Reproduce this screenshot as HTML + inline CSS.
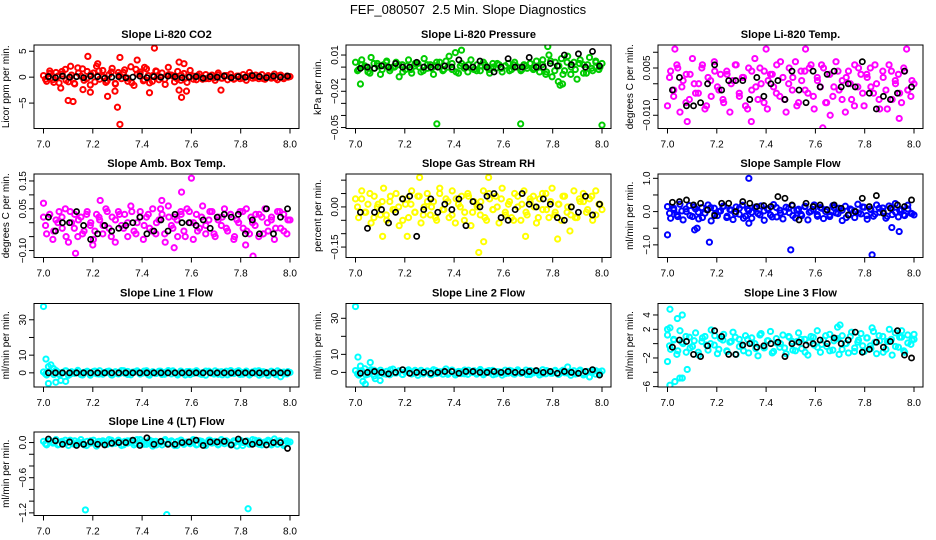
<!DOCTYPE html>
<html><head><meta charset="utf-8"><style>
body{margin:0;background:#fff;}
svg{display:block;font-family:"Liberation Sans",sans-serif;}
</style></head><body>
<svg id="chart" width="936" height="540" viewBox="0 0 936 540" xmlns="http://www.w3.org/2000/svg">
<rect width="936" height="540" fill="#fff"/>
<text x="468" y="14" text-anchor="middle" font-size="13">FEF_080507&#160; 2.5 Min. Slope Diagnostics</text>
</svg>
<script>
const xTicks = [7.0, 7.2, 7.4, 7.6, 7.8, 8.0];
const xTickLabels = ["7.0", "7.2", "7.4", "7.6", "7.8", "8.0"];

const co2Band = [0.3,-0.8,1.2,-0.5,0.9,-1.1,0.6,1.5,-0.9,0.4,-1.3,1.8,0.2,-0.6,1.1,-1.5,0.8,2.1,-0.4,1.3,-1.0,0.5,1.7,-1.2,0.9,-0.3,1.4,-0.8,2.0,-1.6,0.6,1.0,-0.7,1.6,-1.1,0.3,1.2,-0.5,0.8,-1.4,1.9,0.4,-0.9,1.1,-0.6,0.7,-1.0,1.3,0.2,-0.5,0.6,-0.4,0.5,-0.3,0.4,-0.6,0.8,-0.2,0.3,-0.5,0.6,-0.4,0.2,-0.3,0.5,-0.6,0.9,-0.2,0.4,-0.3,0.5,-0.4,0.3,-0.2,0.6,-0.5,0.4,-0.3,0.2,0.1];
const co2Band2 = [-0.4,0.7,-1.0,0.2,1.1,-0.6,0.0,-1.2,0.8,1.6,-0.3,0.5,-0.9,1.2,0.1,-0.7,1.0,-1.3,0.4,0.9,-0.2,-1.1,1.5,0.6,-0.5,0.3,-0.8,1.1,0.0,-0.4,0.5,0.2,-0.3,0.4,-0.2,0.1,-0.4,0.3,0.0,-0.3,0.2,-0.1,0.4,-0.2,0.3,0.0,-0.3,0.2,-0.2,0.1,0.3,-0.1,0.2,-0.3,0.1,0.0,-0.2,0.3,-0.1,0.0];
const co2Black = [0.1,-0.1,0.2,0.0,0.1,-0.1,0.2,0.1,-0.2,0.0,0.1,-0.1,0.0,0.2,-0.1,0.1,0.0,0.2,0.1,-0.1,0.0,0.1,-0.2,0.1,0.0,0.2,-0.1,0.1,0.0,0.3,0.1,-0.1,0.2,0.0,0.2];
const co2OutX = [7.18,7.31,7.30,7.31,7.45,7.10,7.12,7.07,7.56,7.55,7.58,7.26,7.19,7.29,7.72,7.55,7.57,7.38,7.22,7.43,7.11,7.16,7.41];
const co2OutY = [4.0,3.8,-5.8,-9.1,5.6,-4.5,-4.7,-2.1,-3.9,-2.5,-2.7,-3.7,-2.9,-2.7,-2.5,2.9,2.6,3.3,2.6,-3.0,2.1,-2.4,1.9];

const presBand = [0.004,-0.002,0.006,0.001,-0.004,0.008,-0.001,0.003,-0.006,0.002,0.005,-0.003,0.000,0.004,-0.008,0.002,-0.002,0.006,-0.005,0.001,0.003,-0.004,0.007,-0.001,0.002,-0.006,0.004,0.000,-0.003,0.005,0.009,-0.002,0.012,-0.005,0.003,0.001,-0.004,0.006,-0.002,0.002,-0.003,0.004,0.000,-0.005,0.003,-0.001,0.002,-0.004,0.001,0.003,-0.002,0.004,0.000,-0.003,0.002,-0.001,0.003,-0.002,0.005,-0.004,0.006,-0.006,0.010,-0.008,0.004,-0.012,0.007,-0.003,0.009,-0.006,0.004,-0.010,0.006,0.002,-0.005,0.008,-0.003,0.005,-0.002,0.003];
const presBand2 = [-0.003,0.002,0.000,-0.005,0.003,0.001,-0.002,0.004,-0.001,0.000,0.002,-0.004,0.001,-0.002,0.003,0.000,-0.003,0.002,-0.001,0.001,0.004,-0.002,0.000,0.003,-0.004,0.001,-0.001,0.002,0.000,-0.003,0.001,0.002,-0.002,0.000,0.003,-0.001,0.001,-0.003,0.002,0.000,-0.002,0.001,0.003,-0.001,0.000,0.002,-0.004,0.005,-0.003,0.001,-0.006,0.004,0.000,-0.002,0.003,-0.005,0.002,-0.001,0.004,0.000];
const presBlack = [-0.001,0.000,-0.001,0.001,0.000,0.003,0.000,0.000,0.004,0.000,0.000,0.000,0.001,0.000,0.006,0.000,0.000,0.005,0.000,-0.004,0.000,0.007,0.000,0.000,0.008,0.000,0.000,0.003,0.001,0.010,0.002,0.011,0.000,0.013,0.001];
const presOutX = [7.02,7.33,7.67,8.0,7.78,7.43,7.83,7.84];
const presOutY = [-0.014,-0.047,-0.047,-0.048,0.017,0.014,-0.015,-0.014];

const tempBand = [-0.007,0.004,-0.002,0.006,-0.009,0.001,0.003,-0.005,0.008,-0.003,0.000,0.005,-0.008,0.002,-0.004,0.007,-0.001,0.003,-0.006,0.004,-0.009,0.001,0.006,-0.003,0.002,-0.007,0.005,-0.002,0.008,-0.005,0.000,0.004,-0.008,0.003,-0.001,0.006,-0.004,0.002,-0.009,0.005,-0.002,0.007,-0.006,0.001,0.004,-0.003,0.006,-0.008,0.002,-0.001,0.005,-0.006,0.003,-0.004,0.007,-0.002,0.001,-0.009,0.004,-0.005,0.006,-0.001,0.003,-0.007,0.002,0.005,-0.003,0.000,-0.008,0.004,-0.002,0.006,-0.005,0.001,0.003,-0.006,0.004,-0.002,-0.004,0.000];
const tempBand2 = [0.002,-0.004,0.005,-0.001,-0.006,0.003,0.000,-0.003,0.006,-0.007,0.001,0.004,-0.002,-0.005,0.003,0.000,0.006,-0.004,0.002,-0.008,0.004,-0.001,0.005,-0.006,0.001,0.003,-0.003,0.007,-0.005,0.000,0.002,-0.007,0.004,-0.002,0.005,-0.004,0.001,0.006,-0.006,0.003,-0.001,0.004,-0.005,0.002,0.000,-0.007,0.005,-0.003,0.003,-0.001,0.006,-0.005,0.002,-0.008,0.004,0.000,-0.003,0.005,-0.002,0.001];
const tempBlack = [-0.002,0.002,-0.007,-0.007,-0.006,0.000,0.006,-0.002,0.001,0.001,0.001,-0.005,0.002,-0.004,0.000,0.001,-0.005,0.004,-0.002,-0.006,0.004,-0.001,0.003,0.004,-0.001,0.000,-0.001,0.007,-0.003,-0.008,-0.004,-0.005,-0.003,0.004,-0.001];
const tempOutX = [7.03,7.08,7.40,7.34,7.63,7.94,7.66,7.56,7.97];
const tempOutY = [0.011,-0.012,0.011,-0.012,-0.014,-0.011,-0.010,0.011,0.011];

const ambBand = [0.02,-0.04,0.03,-0.06,0.01,0.04,-0.02,0.05,-0.07,0.00,0.03,-0.05,0.02,-0.03,0.04,-0.01,-0.06,0.03,0.01,-0.04,0.05,-0.02,0.02,-0.07,0.04,-0.01,0.03,-0.05,0.06,-0.03,0.00,0.04,-0.06,0.02,-0.02,0.05,-0.04,0.01,0.03,-0.07,0.06,-0.01,0.02,-0.05,0.04,-0.03,0.05,0.00,-0.06,0.03,-0.02,0.06,-0.04,0.01,0.04,-0.05,0.02,-0.01,0.05,-0.03,0.03,-0.06,0.01,0.04,-0.02,0.05,-0.04,0.00,0.03,-0.05,0.02,0.05,-0.03,0.01,-0.06,0.04,-0.02,0.03,-0.04,0.01];
const ambBand2 = [-0.01,0.03,-0.03,0.00,0.02,-0.05,0.04,-0.02,0.01,-0.04,0.03,0.00,-0.03,0.02,-0.01,0.04,-0.05,0.01,0.03,-0.02,0.00,0.04,-0.04,0.02,-0.01,0.03,-0.03,0.00,0.05,-0.04,0.02,-0.02,0.01,0.03,-0.05,0.04,0.00,-0.03,0.02,-0.01,0.04,-0.04,0.01,0.02,-0.02,0.03,-0.05,0.00,0.04,-0.03,0.02,-0.01,0.03,-0.04,0.00,0.02,-0.02,0.04,-0.03,0.01];
const ambBlack = [0.02,-0.03,0.00,0.00,0.04,-0.01,-0.06,-0.04,-0.01,-0.03,-0.02,-0.01,0.00,0.02,-0.04,-0.03,0.01,-0.03,0.03,0.00,0.00,-0.01,0.01,-0.02,0.02,0.03,0.02,0.03,-0.04,0.01,-0.04,0.05,-0.04,0.02,0.05];
const ambOutX = [7.13,7.60,7.56,7.85,7.20,7.00,7.53,7.82,7.48,7.23];
const ambOutY = [-0.11,0.16,0.11,-0.12,-0.08,0.07,-0.09,-0.08,0.08,0.08];

const rhBand = [0.03,-0.04,0.06,-0.02,0.01,-0.06,0.04,0.00,-0.03,0.07,-0.05,0.02,-0.01,0.05,-0.07,0.03,0.01,-0.04,0.06,-0.02,0.04,-0.06,0.00,0.05,-0.03,0.02,-0.05,0.07,-0.01,0.03,-0.04,0.06,-0.06,0.01,0.04,-0.02,0.05,-0.07,0.02,0.00,-0.03,0.06,-0.05,0.03,-0.01,0.04,-0.06,0.07,-0.02,0.01,-0.04,0.05,0.00,-0.05,0.06,-0.03,0.02,0.04,-0.06,0.03,-0.01,0.05,-0.04,0.07,-0.02,0.01,-0.05,0.04,0.00,-0.03,0.06,-0.04,0.02,0.05,-0.02,0.03,-0.05,0.06,0.01,-0.01];
const rhBand2 = [0.00,0.03,-0.02,0.05,-0.04,0.01,0.02,-0.03,0.04,-0.01,0.00,-0.05,0.03,0.01,-0.02,0.04,-0.03,0.02,0.00,-0.04,0.05,-0.01,0.02,-0.03,0.03,0.00,-0.05,0.04,-0.02,0.01,0.02,-0.04,0.05,-0.01,0.00,0.03,-0.03,0.02,-0.05,0.04,0.01,-0.02,0.03,0.00,-0.04,0.05,-0.01,0.02,-0.03,0.01,0.04,-0.02,0.00,-0.04,0.03,0.02,-0.01,0.04,-0.03,0.01];
const rhBlack = [-0.02,-0.08,-0.02,-0.01,-0.06,-0.02,0.03,0.04,-0.11,-0.01,0.03,-0.02,0.01,-0.01,0.03,-0.07,0.02,0.00,0.04,0.05,-0.04,-0.05,-0.01,0.05,0.01,0.00,0.03,0.01,-0.04,-0.05,0.00,-0.02,0.04,-0.03,0.01];
const rhOutX = [7.26,7.50,7.54,7.11,7.21,7.52,7.69,7.82,7.87];
const rhOutY = [0.11,-0.17,0.11,-0.11,-0.11,-0.13,-0.11,-0.12,-0.09];

const sfBand = [0.15,-0.20,0.05,-0.10,0.22,-0.25,0.00,0.18,-0.15,0.08,-0.22,0.12,-0.05,0.20,-0.28,0.10,-0.12,0.02,0.16,-0.18,0.06,-0.24,0.14,-0.08,0.19,-0.14,0.03,-0.20,0.11,-0.06,0.17,-0.26,0.09,-0.10,0.21,-0.16,0.04,-0.22,0.13,-0.03,0.18,-0.19,0.07,-0.12,0.15,-0.25,0.01,0.20,-0.09,0.12,-0.21,0.06,-0.15,0.18,-0.04,0.10,-0.27,0.16,-0.11,0.05,-0.18,0.22,-0.07,0.13,-0.23,0.08,-0.14,0.20,-0.02,0.11,-0.20,0.17,-0.09,0.24,-0.16,0.06,-0.12,0.19,-0.05,-0.10];
const sfBand2 = [-0.05,0.10,-0.15,0.02,0.08,-0.12,0.14,-0.02,-0.18,0.06,0.12,-0.08,0.00,0.16,-0.14,0.04,-0.06,0.10,-0.20,0.08,-0.02,0.14,-0.10,0.02,0.06,-0.16,0.12,-0.04,0.00,0.10,-0.12,0.04,-0.08,0.16,-0.02,0.06,-0.14,0.10,0.00,-0.10,0.12,-0.06,0.04,-0.18,0.08,0.02,-0.04,0.14,-0.12,0.06,-0.08,0.10,0.00,-0.14,0.12,-0.02,0.04,-0.10,0.08,-0.06];
const sfBlack = [0.28,0.30,0.35,0.20,0.25,0.05,-0.12,0.25,0.25,0.00,0.30,0.25,0.15,0.18,0.15,0.45,0.40,0.20,-0.25,0.25,0.15,0.20,0.05,0.20,0.10,-0.10,0.00,0.40,0.15,0.48,-0.05,0.10,0.20,0.15,0.35];
const sfOutX = [7.00,7.33,7.17,7.11,7.50,7.83,7.91,7.94,7.12,7.33];
const sfOutY = [-0.70,1.00,-0.92,-0.55,-1.15,-1.30,-0.48,-0.60,-0.50,-0.35];

const l1Band = [0.5,-1.2,1.0,-0.4,1.3,-0.9,0.2,1.1,-1.4,0.6,-0.3,1.4,-1.0,0.3,0.9,-1.3,0.7,-0.5,1.2,-0.8,0.1,1.0,-1.2,0.4,-0.6,1.3,-0.2,0.8,-1.1,0.5,1.1,-0.7,0.0,1.2,-1.3,0.6,-0.4,0.9,-0.9,0.3,1.3,-0.6,0.2,-1.2,1.0,-0.1,0.7,-1.0,0.4,1.2,-0.5,0.1,-1.3,0.9,-0.3,1.1,-0.8,0.6,0.0,-1.1,1.3,-0.4,0.8,-0.9,0.2,1.0,-1.2,0.5,-0.2,1.2,-0.7,0.3,-1.4,0.9,-0.5,1.1,-2.2,0.4,-0.6,0.2];
const l1Band2 = [-0.6,0.8,-1.0,0.4,-0.2,1.1,-0.8,0.2,0.9,-1.2,0.5,-0.3,1.0,-0.7,0.1,0.8,-1.1,0.6,-0.4,1.2,-0.9,0.3,0.7,-0.5,1.0,-1.0,0.2,-0.2,0.9,-0.8,0.4,1.1,-0.6,0.0,-1.2,0.8,-0.3,0.6,-0.9,1.0,0.1,-0.7,0.5,-1.1,0.9,-0.4,0.3,1.2,-0.8,0.2,-0.5,1.0,-1.3,0.6,-0.1,0.8,-1.0,0.4,-0.6,0.7];
const l1Black = [0.0,0.0,0.0,0.0,0.0,0.0,0.0,0.0,0.0,0.0,0.0,0.0,0.0,0.0,0.0,0.0,0.0,0.0,0.0,0.0,0.0,0.0,0.0,0.0,0.0,0.0,0.0,0.0,0.0,0.0,0.0,0.0,0.0,0.0,0.0];
const l1OutX = [7.00,7.01,7.02,7.03,7.05,7.07,7.09,7.04,7.02];
const l1OutY = [37.5,7.8,3.5,4.5,-5.3,-4.3,-4.8,2.5,-6.0];

const l2Band = [1.0,-1.5,0.5,2.0,-1.0,1.5,-2.0,0.3,1.2,-0.8,0.6,-1.3,1.8,-0.4,0.9,-1.1,0.2,1.4,-0.9,0.7,-1.6,1.1,-0.2,0.8,-1.2,1.5,-0.6,0.4,-1.0,1.9,-0.3,1.0,-1.4,0.5,-0.7,1.3,-1.1,0.2,0.9,-0.5,1.6,-1.3,0.6,-0.2,1.1,-0.9,0.3,-1.5,1.2,-0.4,0.8,-1.0,1.4,-0.6,0.1,-1.2,1.0,-0.3,0.7,-1.4,1.5,-0.8,0.4,-0.5,1.1,-1.1,0.6,-0.2,3.0,-1.6,0.9,-0.7,1.3,-0.4,0.5,-2.5,1.0,-1.0,0.3,0.8];
const l2Band2 = [-0.8,0.9,-1.4,0.3,1.2,-0.5,0.0,-1.0,1.4,-0.3,0.6,-1.2,0.9,-0.6,1.1,0.2,-0.9,0.5,-1.3,1.0,-0.2,0.7,-1.1,1.3,-0.4,0.3,-0.8,1.2,0.0,-1.0,0.8,-0.5,1.0,-1.3,0.4,0.1,-0.7,1.1,-0.9,0.5,-0.2,1.3,-1.2,0.6,0.0,-0.8,1.0,-0.4,0.7,-1.1,1.2,-0.3,0.4,-0.9,0.8,-1.4,0.5,-0.1,0.9,-0.6];
const l2Black = [-0.5,0.0,0.5,0.0,-0.8,0.0,1.5,-0.5,0.0,0.0,-0.5,0.0,0.5,0.5,-0.5,0.5,0.5,0.0,0.0,0.5,0.0,0.5,0.0,0.0,0.5,1.0,0.0,0.5,-0.5,0.5,0.0,-0.5,0.5,1.5,-1.5];
const l2OutX = [7.00,7.01,7.02,7.03,7.04,7.06,7.08,7.10];
const l2OutY = [36.5,8.5,3.5,-5.0,-6.5,5.5,-3.5,-4.5];

const l3Band = [1.2,-0.8,0.5,-1.5,1.8,0.0,-1.2,0.9,-0.4,1.5,-1.6,0.3,1.0,-0.9,1.9,-0.2,-1.4,0.7,1.3,-1.0,0.2,1.6,-1.5,0.6,-0.3,1.1,-1.3,0.8,0.0,-1.7,1.4,-0.6,0.4,1.7,-1.1,0.1,-0.5,1.2,-1.4,0.9,0.3,-1.0,1.5,-0.7,0.6,-1.6,1.0,-0.2,1.8,-1.2,0.5,-0.4,1.3,-0.9,0.7,-1.5,1.1,0.0,-1.3,1.6,-0.6,0.2,1.4,-1.1,0.8,-0.3,1.7,-1.4,0.4,1.0,-0.8,0.3,-1.6,1.5,-0.5,0.9,-1.2,1.2,-0.1,0.6];
const l3Band2 = [-0.3,0.6,-1.0,0.2,1.0,-0.6,0.4,-1.2,0.8,-0.2,0.0,1.1,-0.8,0.5,-1.1,0.3,0.9,-0.4,-1.0,0.6,0.1,-0.7,1.2,-0.5,0.4,-1.3,0.7,0.0,-0.6,1.0,-0.9,0.3,0.6,-1.2,0.2,0.9,-0.5,-0.1,1.1,-1.0,0.4,0.7,-0.8,0.0,1.0,-1.1,0.5,-0.3,0.8,-0.7,0.2,1.1,-1.2,0.3,0.6,-0.4,0.9,-1.0,0.1,0.5];
const l3Black = [-0.5,0.5,0.3,-1.5,-1.8,-0.3,1.8,1.0,-1.5,-1.5,-0.2,0.0,-0.5,-0.3,0.0,0.2,-1.8,0.0,0.2,-0.2,0.0,0.5,0.0,0.8,0.0,0.5,1.6,-1.2,-0.8,0.2,-0.5,0.3,1.8,-1.6,-2.0];
const l3OutX = [7.01,7.04,7.06,7.00,7.01,7.03,7.05,7.06,7.08,7.00,7.01,7.70,7.69,7.83,7.90,7.95,8.00];
const l3OutY = [4.8,3.5,4.0,-2.5,-5.8,-5.3,-4.8,-4.8,-3.6,2.0,2.2,2.6,2.3,2.2,2.0,1.8,1.3];

const l4Band = [0.02,-0.04,0.03,-0.01,0.05,-0.03,0.00,0.04,-0.05,0.01,0.03,-0.02,0.05,-0.04,0.02,-0.01,0.04,-0.06,0.01,0.03,-0.03,0.05,-0.02,0.00,0.04,-0.05,0.02,-0.01,0.03,-0.04,0.05,-0.02,0.01,-0.03,0.04,-0.06,0.02,0.00,-0.04,0.05,-0.01,0.03,-0.05,0.02,0.04,-0.03,0.01,-0.02,0.05,-0.04,0.03,0.00,-0.05,0.04,-0.01,0.02,-0.03,0.05,-0.02,0.01,-0.04,0.03,-0.06,0.04,0.00,0.02,-0.03,0.05,-0.01,0.03,-0.04,0.01,0.04,-0.02,0.06,-0.03,0.02,-0.05,0.03,0.01];
const l4Band2 = [-0.02,0.03,0.00,-0.04,0.02,-0.01,0.04,-0.03,0.01,0.00,-0.05,0.03,-0.02,0.02,0.00,-0.03,0.04,-0.01,0.01,-0.04,0.03,0.00,-0.02,0.05,-0.03,0.01,0.02,-0.04,0.00,0.03,-0.02,0.01,-0.05,0.04,0.00,-0.01,0.03,-0.03,0.02,-0.02,0.04,0.00,-0.04,0.01,0.03,-0.02,0.00,0.02,-0.05,0.03,-0.01,0.04,-0.03,0.00,0.02,-0.04,0.01,0.03,-0.02,0.00];
const l4Black = [0.06,0.03,-0.03,0.01,-0.05,-0.03,0.01,-0.03,-0.04,-0.01,0.00,0.00,0.04,-0.05,0.08,-0.03,0.02,-0.03,-0.03,0.00,0.01,0.04,-0.05,0.01,0.01,0.02,-0.04,0.06,0.02,-0.03,0.00,-0.04,0.00,0.00,-0.10];
const l4OutX = [7.17,7.50,7.83];
const l4OutY = [-1.15,-1.23,-1.13];

const colLeft = [34, 346, 658];
const rowTop = [45, 174, 303.5, 432];
const boxW = 265, boxH = 83.5;
const xPadL = 9.5, xPadR = 9;
const svg = document.getElementById('chart');
const NS = 'http://www.w3.org/2000/svg';
function mk(tag, attrs, parent) {
  const e = document.createElementNS(NS, tag);
  for (const k in attrs) e.setAttribute(k, attrs[k]);
  (parent || svg).appendChild(e);
  return e;
}
const panels = [
  {key:'co2', title:'Slope Li-820 CO2', ylab:'Licor ppm per min.', col:'#ff0000', r:0, c:0, dom:[-9.9,6.2], ticks:[-5,0,5], labs:['\u22125','0','5'], band:co2Band, band2:co2Band2, blk:co2Black, ox:co2OutX, oy:co2OutY},
  {key:'pressure', title:'Slope Li-820 Pressure', ylab:'kPa per min.', col:'#00cc00', r:0, c:1, dom:[-0.0508,0.0183], ticks:[0.01,0,-0.01,-0.02,-0.03,-0.04,-0.05], labs:['0.01','','','\u22120.02','','','\u22120.05'], band:presBand, band2:presBand2, blk:presBlack, ox:presOutX, oy:presOutY},
  {key:'temp', title:'Slope Li-820 Temp.', ylab:'degrees C per min.', col:'#ff00ff', r:0, c:2, dom:[-0.0142,0.0123], ticks:[0.01,0.005,0,-0.005,-0.01], labs:['','0.005','','','\u22120.010'], band:tempBand, band2:tempBand2, blk:tempBlack, ox:tempOutX, oy:tempOutY},
  {key:'amb-temp', title:'Slope Amb. Box Temp.', ylab:'degrees C per min.', col:'#ff00ff', r:1, c:0, dom:[-0.125,0.175], ticks:[0.15,0.1,0.05,0,-0.05,-0.1], labs:['0.15','','0.05','','','\u22120.10'], band:ambBand, band2:ambBand2, blk:ambBlack, ox:ambOutX, oy:ambOutY},
  {key:'rh', title:'Slope Gas Stream RH', ylab:'percent per min.', col:'#ffff00', r:1, c:1, dom:[-0.189,0.123], ticks:[0.1,0.05,0,-0.05,-0.1,-0.15], labs:['','','0.00','','','\u22120.15'], band:rhBand, band2:rhBand2, blk:rhBlack, ox:rhOutX, oy:rhOutY},
  {key:'sample-flow', title:'Slope Sample Flow', ylab:'ml/min per min.', col:'#0000ff', r:1, c:2, dom:[-1.38,1.13], ticks:[1,0.5,0,-0.5,-1], labs:['1.0','','0.0','','\u22121.0'], band:sfBand, band2:sfBand2, blk:sfBlack, ox:sfOutX, oy:sfOutY},
  {key:'line1', title:'Slope Line 1 Flow', ylab:'ml/min per min.', col:'#00ffff', r:2, c:0, dom:[-8.0,39.2], ticks:[0,10,20,30], labs:['0','10','','30'], band:l1Band, band2:l1Band2, blk:l1Black, ox:l1OutX, oy:l1OutY},
  {key:'line2', title:'Slope Line 2 Flow', ylab:'ml/min per min.', col:'#00ffff', r:2, c:1, dom:[-8.1,38.2], ticks:[0,10,20,30], labs:['0','10','','30'], band:l2Band, band2:l2Band2, blk:l2Black, ox:l2OutX, oy:l2OutY},
  {key:'line3', title:'Slope Line 3 Flow', ylab:'ml/min per min.', col:'#00ffff', r:2, c:2, dom:[-6.05,5.6], ticks:[4,2,0,-2,-4,-6], labs:['4','2','','\u22122','','\u22126'], band:l3Band, band2:l3Band2, blk:l3Black, ox:l3OutX, oy:l3OutY},
  {key:'line4', title:'Slope Line 4 (LT) Flow', ylab:'ml/min per min.', col:'#00ffff', r:3, c:0, dom:[-1.245,0.18], ticks:[0,-0.2,-0.4,-0.6,-0.8,-1.0,-1.2], labs:['0.0','','','\u22120.6','','','\u22121.2'], band:l4Band, band2:l4Band2, blk:l4Black, ox:l4OutX, oy:l4OutY}
];

panels.forEach(p => {
  const L = colLeft[p.c], T = rowTop[p.r];
  const x0 = L + xPadL, x1 = L + boxW - xPadR;
  const xs = v => x0 + (v - 7.0) / 1.0 * (x1 - x0);
  const ys = v => T + boxH - (v - p.dom[0]) / (p.dom[1] - p.dom[0]) * boxH;
  const g = mk('g', {});
  
  
  const tt = mk('text', {x: L + boxW/2, y: T - 7, 'text-anchor': 'middle', 'font-size': 11, 'font-weight': 'bold'}, g);
  tt.textContent = p.title;
  
  
  const yl = mk('text', {x: 0, y: 0, 'text-anchor': 'middle', 'font-size': 10, transform: `translate(${L-25},${T+boxH/2}) rotate(-90)`}, g);
  yl.textContent = p.ylab;
  
  
  xTicks.forEach((t, i) => {
    const X = xs(t);
    const tk = mk('line', {x1: X, x2: X, y1: T+boxH, y2: T+boxH+5, stroke: '#000', 'stroke-width': 1}, g);
    
    
    const tl = mk('text', {x: X, y: T+boxH+19, 'text-anchor': 'middle', 'font-size': 10}, g);
    tl.textContent = xTickLabels[i];
    
    
  });
  p.ticks.forEach((t, i) => {
    const Y = ys(t);
    const tk = mk('line', {x1: L-5, x2: L, y1: Y, y2: Y, stroke: '#000', 'stroke-width': 1}, g);
    
    
    if (p.labs[i]) {
      const tl = mk('text', {x: 0, y: 0, 'text-anchor': 'middle', 'font-size': 10, transform: `translate(${L-8},${Y}) rotate(-90)`}, g);
      tl.textContent = p.labs[i];
      
      
    }
  });
  const clip = 'clip-' + p.key;
  const cp = mk('clipPath', {id: clip}, g);
  mk('rect', {x: L, y: T, width: boxW, height: boxH}, cp);
  const mg = mk('g', {'clip-path': `url(#${clip})`}, g);
  const n = p.band.length;
  p.band.forEach((v, i) => {
    const c = mk('circle', {cx: xs(7.0 + i/(n-1)), cy: ys(v), r: 2.6, fill: 'none', stroke: p.col, 'stroke-width': 2}, mg);
    
    
  });
  const n2 = p.band2.length;
  p.band2.forEach((v, i) => {
    const c = mk('circle', {cx: xs(7.0 + (i+0.5)/n2), cy: ys(v), r: 2.6, fill: 'none', stroke: p.col, 'stroke-width': 2}, mg);
    
    
  });
  p.ox.forEach((xv, i) => {
    const c = mk('circle', {cx: xs(xv), cy: ys(p.oy[i]), r: 2.6, fill: 'none', stroke: p.col, 'stroke-width': 2}, mg);
    
    
  });
  const m = p.blk.length;
  p.blk.forEach((v, i) => {
    const c = mk('circle', {cx: xs(7.02 + i/(m-1)*0.97), cy: ys(v), r: 2.6, fill: 'none', stroke: '#000', 'stroke-width': 1.7}, mg);
    
    
  });
  const box = mk('rect', {x: L, y: T, width: boxW, height: boxH, fill: 'none', stroke: '#000', 'stroke-width': 1}, g);
  
  
});
</script>
</body></html>
